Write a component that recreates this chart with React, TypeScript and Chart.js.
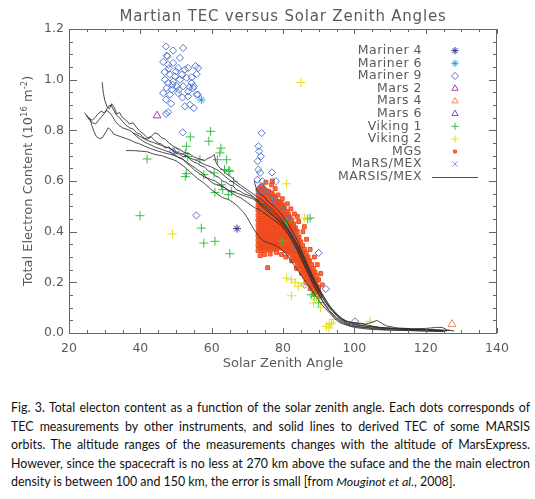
import React, { useEffect, useLayoutEffect, useRef, useState } from 'react';
import { Chart, registerables } from 'chart.js';
import { drawPoint } from 'chart.js/helpers';

Chart.register(...registerables);

type Pt = [number, number];

// axes
const xTickValues = [20, 40, 60, 80, 100, 120, 140];
const yTickValues = [0, 0.2, 0.4, 0.6, 0.8, 1.0, 1.2];
const xMinorStep = 5;
const yMinorStep = 0.05;

const seriesNames = [
  'Mariner 4', 'Mariner 6', 'Mariner 9', 'Mars 2', 'Mars 4', 'Mars 6',
  'Viking 1', 'Viking 2', 'MGS', 'MaRS/MEX', 'MARSIS/MEX',
];

// point measurements (solar zenith angle, TEC in 1e16 m^-2)
const mariner4: Pt[] = [[67.1, 0.412]];
const mariner6: Pt[] = [[57.1, 0.92]];
const mariner9: Pt[] = [
  [47.2, 1.131], [49.2, 1.115], [52.0, 1.125], [51.1, 1.086], [47.6, 1.092], [46.4, 1.07],
  [47.8, 1.059], [49.2, 1.066], [50.6, 1.046], [52.5, 1.04], [53.4, 1.046], [56.2, 1.046],
  [55.8, 1.022], [48.3, 1.02], [49.7, 1.013], [46.9, 1.0], [47.8, 0.987], [49.2, 0.993],
  [51.1, 1.0], [53.0, 1.007], [52.0, 0.974], [54.4, 0.987], [54.8, 0.967], [55.0, 0.974],
  [47.4, 0.967], [48.8, 0.961], [50.2, 0.974], [46.4, 0.947], [48.3, 0.941], [50.6, 0.947],
  [53.4, 0.954], [55.8, 0.941], [47.2, 0.921], [53.4, 0.934], [52.5, 0.895], [53.9, 0.901],
  [55.0, 0.888], [47.2, 0.865], [47.8, 0.872], [54.4, 1.009], [50.0, 1.033], [51.6, 1.02],
  [47.4, 1.095], [55.5, 1.053], [56.1, 0.941], [48.0, 1.045], [50.8, 0.96], [49.0, 0.98],
  [46.8, 1.03], [53.8, 0.97], [51.8, 0.93], [48.6, 0.905],
  [51.9, 0.792], [49.1, 0.717], [49.9, 0.72], [55.7, 0.464], [74.0, 0.789], [73.1, 0.737],
  [73.3, 0.717], [73.8, 0.697], [72.9, 0.678], [73.1, 0.645], [73.6, 0.632], [72.8, 0.605],
  [74.2, 0.599], [76.9, 0.634], [78.0, 0.599], [75.0, 0.553], [76.4, 0.526], [77.8, 0.52],
  [79.8, 0.487], [81.2, 0.461], [73.6, 0.553], [74.0, 0.579], [90.0, 0.316], [92.0, 0.174],
  [86.0, 0.191], [100.2, 0.046], [82.6, 0.395], [83.6, 0.342],
];
const mars2: Pt[] = [[44.7, 0.858]];
const mars4: Pt[] = [[127.4, 0.035]];
const mars6: Pt[] = [];
const viking1: Pt[] = [
  [39.9, 0.463], [41.9, 0.687], [52.6, 0.708], [53.3, 0.697], [52.9, 0.737], [54.0, 0.774],
  [52.9, 0.629], [52.6, 0.618], [56.7, 0.684], [59.7, 0.796], [59.2, 0.757], [62.6, 0.73],
  [62.3, 0.711], [61.6, 0.684], [63.6, 0.645], [64.8, 0.642], [60.7, 0.632], [57.8, 0.625],
  [60.9, 0.555], [63.1, 0.566], [64.7, 0.546], [66.1, 0.598], [65.1, 0.638], [64.2, 0.684],
  [62.8, 0.585], [65.6, 0.559], [57.1, 0.414], [57.8, 0.355], [60.9, 0.362], [65.1, 0.313],
  [86.9, 0.45], [87.6, 0.454], [79.8, 0.362], [81.0, 0.434], [87.9, 0.151], [88.8, 0.145],
  [90.0, 0.12],
];
const viking2: Pt[] = [
  [85.0, 0.989], [49.0, 0.391], [81.0, 0.589], [86.0, 0.454], [81.0, 0.217], [82.4, 0.21],
  [83.4, 0.2], [84.3, 0.184], [85.7, 0.197], [82.4, 0.147], [88.5, 0.118], [89.4, 0.134],
  [92.2, 0.026], [92.9, 0.02], [93.6, 0.039], [94.1, 0.053], [93.0, 0.033], [104.4, 0.046],
  [90.5, 0.1],
];
// MGS occultations: dense band, listed column by column
const mgsColumnX = [
  73, 73.5, 74, 74.5, 75, 75.5, 76, 76.5, 77, 77.5, 78, 78.5, 79, 79.5, 80, 80.5, 81, 81.5,
  82, 82.5, 83, 83.5, 84, 84.5, 85, 85.5, 86, 86.5, 87, 87.5, 88, 88.5, 89, 89.5, 90,
];
const mgsColumnY = [
  [0.325, 0.345, 0.365, 0.385, 0.405, 0.425, 0.445, 0.465, 0.485, 0.505, 0.525, 0.545, 0.565],
  [0.335, 0.355, 0.375, 0.395, 0.415, 0.435, 0.455, 0.475, 0.495, 0.515, 0.535, 0.555, 0.572],
  [0.325, 0.345, 0.366, 0.386, 0.404, 0.426, 0.446, 0.464, 0.486, 0.506, 0.526, 0.546, 0.566, 0.58],
  [0.333, 0.352, 0.374, 0.394, 0.413, 0.433, 0.452, 0.474, 0.494, 0.513, 0.533, 0.552, 0.57],
  [0.326, 0.344, 0.364, 0.386, 0.405, 0.424, 0.445, 0.466, 0.484, 0.505, 0.525, 0.544, 0.565],
  [0.334, 0.355, 0.376, 0.395, 0.414, 0.435, 0.456, 0.475, 0.494, 0.515, 0.536, 0.556],
  [0.33, 0.348, 0.368, 0.388, 0.407, 0.428, 0.447, 0.468, 0.488, 0.507, 0.528, 0.548, 0.56],
  [0.336, 0.357, 0.377, 0.396, 0.417, 0.437, 0.456, 0.476, 0.497, 0.517, 0.537, 0.553],
  [0.33, 0.35, 0.37, 0.39, 0.41, 0.43, 0.45, 0.47, 0.49, 0.51, 0.53, 0.55],
  [0.337, 0.358, 0.378, 0.398, 0.418, 0.438, 0.458, 0.478, 0.498, 0.518, 0.538],
  [0.335, 0.355, 0.375, 0.395, 0.415, 0.435, 0.455, 0.475, 0.495, 0.515, 0.535],
  [0.34, 0.36, 0.38, 0.4, 0.42, 0.44, 0.46, 0.48, 0.5, 0.52],
  [0.335, 0.355, 0.375, 0.395, 0.415, 0.435, 0.455, 0.475, 0.495, 0.515],
  [0.34, 0.36, 0.38, 0.4, 0.42, 0.44, 0.46, 0.48, 0.5, 0.512],
  [0.335, 0.355, 0.375, 0.395, 0.415, 0.435, 0.455, 0.475, 0.495, 0.505],
  [0.33, 0.35, 0.37, 0.39, 0.41, 0.43, 0.45, 0.47, 0.49],
  [0.325, 0.345, 0.365, 0.385, 0.405, 0.425, 0.445, 0.465, 0.48],
  [0.32, 0.34, 0.36, 0.38, 0.4, 0.42, 0.44, 0.46, 0.47],
  [0.315, 0.335, 0.355, 0.375, 0.395, 0.415, 0.435, 0.455],
  [0.305, 0.325, 0.345, 0.365, 0.385, 0.405, 0.425, 0.445],
  [0.295, 0.315, 0.335, 0.355, 0.375, 0.395, 0.415, 0.43],
  [0.285, 0.305, 0.325, 0.345, 0.365, 0.385, 0.405, 0.415],
  [0.275, 0.295, 0.315, 0.335, 0.355, 0.375, 0.4],
  [0.265, 0.285, 0.305, 0.325, 0.345, 0.365, 0.38],
  [0.255, 0.275, 0.295, 0.315, 0.335, 0.36],
  [0.24, 0.26, 0.28, 0.3, 0.32, 0.345],
  [0.225, 0.245, 0.265, 0.285, 0.305, 0.33],
  [0.215, 0.235, 0.255, 0.275, 0.295, 0.315],
  [0.205, 0.225, 0.245, 0.265, 0.285, 0.3],
  [0.195, 0.215, 0.235, 0.255, 0.285],
  [0.185, 0.205, 0.225, 0.245, 0.27],
  [0.178, 0.198, 0.218, 0.238, 0.255],
  [0.17, 0.19, 0.21, 0.24],
  [0.165, 0.185, 0.205, 0.225],
  [0.16, 0.18, 0.21],
];
const mgsScattered: Pt[] = [
  [75.7, 0.258], [76.8, 0.585], [77.8, 0.57], [78.6, 0.545], [79.8, 0.53], [81.2, 0.51],
  [82.2, 0.49], [83.2, 0.47], [84.4, 0.44], [85.6, 0.4], [86.6, 0.37], [87.6, 0.33],
  [88.8, 0.3], [89.6, 0.27], [90.6, 0.235], [91.0, 0.19], [73.6, 0.305], [74.8, 0.31],
  [76.4, 0.312], [78.2, 0.318], [79.6, 0.31], [80.8, 0.3], [82.4, 0.285], [83.8, 0.255],
  [85.2, 0.235], [86.4, 0.2], [87.6, 0.175], [88.8, 0.155], [90.4, 0.145], [77.0, 0.6],
  [75.2, 0.595], [84.0, 0.46], [86.0, 0.42],
];
const marsMex: Pt[] = [];

// MARSIS/MEX orbits (solid lines)
const marsisOrbit1: Pt[] = [
  [29.3, 0.99], [29.6, 0.95], [30, 0.92], [30.6, 0.895], [31.3, 0.885], [32, 0.905], [32.7, 0.89],
  [33.4, 0.865], [34.2, 0.87], [35, 0.85], [36, 0.84], [37, 0.825], [38, 0.83], [39, 0.81],
  [40, 0.795], [41, 0.785], [42, 0.77], [43, 0.775], [44, 0.76], [45, 0.75], [46, 0.745],
  [47, 0.73], [48, 0.735], [49, 0.72], [50, 0.71], [51, 0.705], [52, 0.695], [53, 0.7],
  [54, 0.685], [55, 0.675], [56, 0.67], [57, 0.66], [58, 0.655], [59, 0.64], [60, 0.635],
  [61, 0.62], [62, 0.615], [63, 0.6], [64, 0.595], [65, 0.585], [66, 0.58], [67, 0.565],
  [68, 0.56], [69, 0.55], [70, 0.545], [71, 0.54], [72, 0.53], [73, 0.525], [74, 0.51],
  [75, 0.505], [76, 0.49], [77, 0.48], [78, 0.465], [79, 0.45], [80, 0.435], [81, 0.415],
  [82, 0.395], [83, 0.37], [84, 0.345], [85, 0.315], [86, 0.285], [87, 0.255], [88, 0.225],
  [89, 0.195], [90, 0.17], [91, 0.145], [92, 0.12], [93, 0.1], [94, 0.085], [95, 0.068],
  [96, 0.055], [98, 0.04], [100, 0.032], [103, 0.027], [106, 0.022], [110, 0.018],
  [114, 0.016], [118, 0.013], [122, 0.012], [126, 0.01],
];
const marsisOrbit2: Pt[] = [
  [24.4, 0.87], [25, 0.855], [25.8, 0.84], [26.6, 0.83], [27.5, 0.825], [28.3, 0.84],
  [29.2, 0.855], [30.1, 0.87], [31, 0.895], [31.8, 0.9], [32.5, 0.88], [33.3, 0.86],
  [34.2, 0.85], [35, 0.835], [36, 0.82], [37, 0.81], [38, 0.805], [39, 0.79], [40, 0.785],
  [41, 0.77], [42, 0.765], [43, 0.775], [44, 0.79], [45, 0.785], [46, 0.77], [47, 0.765],
  [48, 0.75], [49, 0.74], [50, 0.73], [51, 0.725], [52, 0.715], [53, 0.71], [54, 0.705],
  [55, 0.695], [56, 0.69], [57, 0.685], [58, 0.68], [59, 0.69], [60, 0.695], [60.7, 0.705],
  [61.3, 0.67], [62, 0.655], [63, 0.645], [64, 0.63], [65, 0.62], [66, 0.61], [67, 0.595],
  [68, 0.585], [69, 0.575], [70, 0.565], [71, 0.555], [72, 0.545], [73, 0.535], [74, 0.525],
  [75, 0.515], [76, 0.5], [77, 0.49], [78, 0.475], [79, 0.46], [80, 0.44], [81, 0.42],
  [82, 0.4], [83, 0.375], [84, 0.35], [85, 0.325], [86, 0.295], [87, 0.265], [88, 0.235],
  [89, 0.205], [90, 0.18], [91, 0.155], [92, 0.13], [93, 0.105], [94, 0.09], [95, 0.072],
  [96, 0.06], [97, 0.05], [99, 0.042], [101, 0.038], [103, 0.035], [105, 0.042], [106.3, 0.05],
  [107.5, 0.04], [109, 0.028], [112, 0.02], [116, 0.017], [120, 0.018], [123, 0.022],
  [124.7, 0.022], [126, 0.012], [128, 0.008],
];
const marsisOrbit3: Pt[] = [
  [25.8, 0.85], [26.4, 0.82], [27, 0.795], [27.7, 0.775], [28.5, 0.768], [29.3, 0.77],
  [30.2, 0.79], [31, 0.81], [31.8, 0.8], [32.5, 0.785], [33.5, 0.78], [34.5, 0.775],
  [35.5, 0.77], [36.5, 0.765], [37.5, 0.76], [38.5, 0.752], [39.5, 0.748], [40.5, 0.742],
  [41.5, 0.736], [42.5, 0.73], [43.5, 0.725], [44.5, 0.72], [45.5, 0.716], [46.5, 0.712],
  [47.5, 0.708], [48.5, 0.705], [49.5, 0.7], [50.5, 0.695], [51.5, 0.69], [52.5, 0.68],
  [53.5, 0.67], [54.5, 0.66], [55.5, 0.65], [56.5, 0.64], [57.5, 0.63], [58.5, 0.615],
  [59.5, 0.6], [60.5, 0.59], [61.5, 0.585], [62.5, 0.58], [63.5, 0.575], [64.5, 0.565],
  [65.5, 0.56], [66.5, 0.555], [67.5, 0.55], [68.5, 0.545], [69.5, 0.54], [70.5, 0.535],
  [71.5, 0.53], [72.5, 0.52], [73.5, 0.51], [74.5, 0.5], [75.5, 0.49], [76.5, 0.475],
  [77.5, 0.46], [78.5, 0.445], [79.5, 0.43], [80.5, 0.41], [81.5, 0.39], [82.5, 0.365],
  [83.5, 0.34], [84.5, 0.31], [85.5, 0.28], [86.5, 0.25], [87.5, 0.22], [88.5, 0.19],
  [89.5, 0.165], [90.5, 0.14], [91.5, 0.115], [92.5, 0.095], [93.5, 0.078], [94.5, 0.062],
  [95.5, 0.05], [97, 0.038], [99, 0.028], [102, 0.022], [106, 0.016], [110, 0.012],
  [115, 0.01], [120, 0.008], [125, 0.006],
];
const marsisOrbit4: Pt[] = [
  [25, 0.86], [25.7, 0.845], [26.5, 0.84], [27.3, 0.85], [28.1, 0.865], [29, 0.875],
  [29.8, 0.87], [30.6, 0.878], [31.4, 0.87], [32.2, 0.855], [33, 0.835], [34, 0.82],
  [35, 0.81], [36, 0.805], [37, 0.8], [38, 0.79], [39, 0.775], [40, 0.765], [41, 0.755],
  [42, 0.748], [43, 0.742], [44, 0.735], [45, 0.73], [46, 0.725], [47, 0.72], [48, 0.715],
  [49, 0.71], [50, 0.7], [51, 0.69], [52, 0.685], [53, 0.67], [54, 0.66], [55, 0.645],
  [56, 0.635], [57, 0.625], [58, 0.615], [59, 0.61], [60, 0.605], [61, 0.6], [62, 0.59],
  [63, 0.58], [64, 0.57], [65, 0.56], [66, 0.55], [67, 0.54], [68, 0.535], [69, 0.525],
  [70, 0.515], [71, 0.505], [72, 0.495], [73, 0.49], [74, 0.48], [75, 0.47], [76, 0.46],
  [77, 0.45], [78, 0.44], [79, 0.43], [80, 0.415], [81, 0.4], [82, 0.38], [83, 0.355],
  [84, 0.33], [85, 0.3], [86, 0.27], [87, 0.24], [88, 0.21], [89, 0.18], [90, 0.155],
  [91, 0.13], [92, 0.11], [93, 0.09], [94, 0.075], [95, 0.06], [96, 0.05], [98, 0.036],
  [100, 0.028], [103, 0.022], [107, 0.018], [112, 0.015], [117, 0.013], [122, 0.011],
  [126, 0.008],
];
const marsisOrbit5: Pt[] = [
  [36, 0.72], [38, 0.72], [40, 0.718], [42, 0.715], [44, 0.705], [46, 0.7], [48, 0.69],
  [50, 0.68], [52, 0.66], [54, 0.635], [56, 0.61], [58, 0.59], [60, 0.565], [61, 0.555],
  [62, 0.545], [63, 0.535], [64, 0.53], [65, 0.525], [66, 0.515], [67, 0.505], [68, 0.49],
  [69, 0.475], [70, 0.455], [71, 0.43], [72, 0.405], [73, 0.385], [74, 0.37], [75, 0.36],
  [76, 0.355], [77, 0.35], [78, 0.345], [79, 0.335], [80, 0.325], [81, 0.31], [82, 0.29],
  [83, 0.27], [84, 0.25], [85, 0.23], [86, 0.21], [87, 0.19], [88, 0.17], [89, 0.15],
  [90, 0.13], [91, 0.11], [92, 0.095], [93, 0.08], [94, 0.065], [95, 0.05], [96, 0.04],
  [98, 0.03], [100, 0.022], [104, 0.015], [108, 0.012], [114, 0.01], [120, 0.008],
  [125, 0.006],
];
const marsisOrbit6: Pt[] = [
  [72, 0.6], [72.3, 0.58], [72.8, 0.56], [73.5, 0.55], [74.5, 0.54], [75.5, 0.525],
  [76.5, 0.51], [77.5, 0.5], [78.5, 0.485], [79.5, 0.47], [80.5, 0.45], [81.5, 0.43],
  [82.5, 0.405], [83.5, 0.38], [84.5, 0.35], [85.5, 0.315], [86.5, 0.28], [87.5, 0.245],
  [88.5, 0.21], [89.5, 0.185], [90.5, 0.16], [91.5, 0.14], [92.5, 0.12], [93.5, 0.1],
  [94.5, 0.085], [95.5, 0.07], [96.5, 0.058], [98, 0.045], [100, 0.036], [103, 0.028],
  [107, 0.022], [112, 0.018], [117, 0.015], [122, 0.013], [127, 0.01],
];
const marsisOrbit7: Pt[] = [
  [38, 0.79], [40, 0.775], [42, 0.76], [44, 0.75], [46, 0.74], [48, 0.73], [50, 0.715],
  [52, 0.705], [54, 0.69], [56, 0.68], [58, 0.665], [60, 0.655], [62, 0.64], [64, 0.615],
  [66, 0.595], [68, 0.575], [70, 0.555], [72, 0.535], [74, 0.5], [76, 0.475], [78, 0.455],
  [80, 0.43], [82, 0.39], [84, 0.34], [86, 0.28], [88, 0.22], [90, 0.165], [92, 0.12],
  [94, 0.085], [96, 0.06], [98, 0.045], [100, 0.04], [102, 0.038], [104, 0.03], [108, 0.02],
  [114, 0.015], [120, 0.012], [125, 0.01],
];
const marsisOrbits = [
  marsisOrbit1, marsisOrbit2, marsisOrbit3, marsisOrbit4, marsisOrbit5, marsisOrbit6, marsisOrbit7,
];

const captionLines = [
  'Fig. 3. Total electon content as a function of the solar zenith angle. Each dots corresponds of',
  'TEC measurements by other instruments, and solid lines to derived TEC of some MARSIS',
  'orbits. The altitude ranges of the measurements changes with the altitude of MarsExpress.',
  'However, since the spacecraft is no less at 270 km above the suface and the the main electron',
];
const captionLastStart = 'density is between 100 and 150 km, the error is small [from ';
const captionLastItalic = 'Mouginot et al.';
const captionLastEnd = ', 2008].';
const CAPTION_FONT = 'Lato, "Open Sans", sans-serif';

// look of each series
const seriesStyle: Record<string, any> = {
  'Mariner 4': { shape: 'star', radius: 4, color: '#2b3190', fill: 'rgba(0,0,0,0)' },
  'Mariner 6': { shape: 'star', radius: 4, color: '#1f9fe0', fill: 'rgba(0,0,0,0)' },
  'Mariner 9': { shape: 'rectRot', radius: 3.6, color: '#5677cf', fill: 'rgba(0,0,0,0)' },
  'Mars 2': { shape: 'triangle', radius: 4.5, color: '#a646a8', fill: 'rgba(0,0,0,0)' },
  'Mars 4': { shape: 'triangle', radius: 4.5, color: '#f2875a', fill: 'rgba(0,0,0,0)' },
  'Mars 6': { shape: 'triangle', radius: 4.5, color: '#7552c0', fill: 'rgba(0,0,0,0)' },
  'Viking 1': { shape: 'cross', radius: 4.5, color: '#36c046', fill: 'rgba(0,0,0,0)' },
  'Viking 2': { shape: 'cross', radius: 4.5, color: '#e4de1e', fill: 'rgba(0,0,0,0)' },
  'MGS': { shape: 'rect', radius: 2.7, color: '#ee4a1c', fill: 'rgba(242,78,34,0.8)' },
  'MaRS/MEX': { shape: 'crossRot', radius: 4, color: '#8c8ce2', fill: 'rgba(0,0,0,0)' },
  'MARSIS/MEX': { line: true, color: 'rgba(45,45,45,0.85)' },
};

const FONT = '"DejaVu Sans", sans-serif';
const AXIS_COLOR = '#666';
const TEXT_COLOR = '#5a5a5a';

const toXY = (pts: Pt[]) => pts.map(([x, y]) => ({ x, y }));

const near = (v: number, list: number[]) => list.some((t) => Math.abs(t - v) < 1e-6);

const idlDecor = {
  id: 'idlDecor',
  afterDatasetsDraw(chart: any) {
    const { ctx, chartArea: a, scales } = chart;
    const xs = scales.x;
    const ys = scales.y;
    ctx.save();
    ctx.strokeStyle = AXIS_COLOR;
    ctx.lineWidth = 1;
    ctx.strokeRect(a.left + 0.5, a.top + 0.5, a.right - a.left - 1, a.bottom - a.top);
    ctx.beginPath();
    for (let v = xs.min; v <= xs.max + 1e-6; v += xMinorStep) {
      const px = Math.round(xs.getPixelForValue(v)) + 0.5;
      const len = near(v, xTickValues) ? 5 : 3;
      ctx.moveTo(px, a.bottom);
      ctx.lineTo(px, a.bottom - len);
      ctx.moveTo(px, a.top);
      ctx.lineTo(px, a.top + len);
    }
    for (let v = ys.min; v <= ys.max + 1e-6; v += yMinorStep) {
      const py = Math.round(ys.getPixelForValue(v)) + 0.5;
      const len = near(v, yTickValues) ? 8 : 4;
      ctx.moveTo(a.left, py);
      ctx.lineTo(a.left + len, py);
      ctx.moveTo(a.right, py);
      ctx.lineTo(a.right - len, py);
    }
    ctx.stroke();
    ctx.restore();
  },
  afterDraw(chart: any) {
    const { ctx, chartArea: a } = chart;
    const cx = (a.left + a.right) / 2;
    ctx.save();
    ctx.fillStyle = TEXT_COLOR;
    ctx.textBaseline = 'middle';

    // title
    ctx.font = `15px ${FONT}`;
    ctx.textAlign = 'center';
    (ctx as any).letterSpacing = '0.8px';
    ctx.fillText('Martian TEC versus Solar Zenith Angles', cx, 17);
    (ctx as any).letterSpacing = '0px';

    // x title
    ctx.font = `13px ${FONT}`;
    ctx.fillText('Solar Zenith Angle', cx, 364);

    // y title with superscripts
    const parts: [string, boolean][] = [
      ['Total Electron Content (10', false], ['16', true], [' m', false], ['-2', true], [')', false],
    ];
    const fontFor = (sup: boolean) => (sup ? `8.5px ${FONT}` : `13px ${FONT}`);
    let total = 0;
    parts.forEach(([t, sup]) => { ctx.font = fontFor(sup); total += ctx.measureText(t).width; });
    ctx.translate(29, (a.top + a.bottom) / 2);
    ctx.rotate(-Math.PI / 2);
    ctx.textAlign = 'left';
    let px = -total / 2;
    parts.forEach(([t, sup]) => {
      ctx.font = fontFor(sup);
      ctx.fillText(t, px, sup ? -4.5 : 0);
      px += ctx.measureText(t).width;
    });
    ctx.setTransform(chart.currentDevicePixelRatio, 0, 0, chart.currentDevicePixelRatio, 0, 0);

    // legend: text right aligned, symbol to the right
    const legendRight = 422;
    const symbolX = 455;
    seriesNames.forEach((name, i) => {
      const y = 50.7 + i * 12.6;
      ctx.font = `12.5px ${FONT}`;
      (ctx as any).letterSpacing = '0.5px';
      ctx.textAlign = 'right';
      ctx.fillStyle = TEXT_COLOR;
      ctx.fillText(name, legendRight, y);
      (ctx as any).letterSpacing = '0px';
      const st = seriesStyle[name];
      if (st.line) {
        ctx.strokeStyle = st.color;
        ctx.lineWidth = 1;
        ctx.beginPath();
        ctx.moveTo(432, Math.round(y) + 0.5);
        ctx.lineTo(478, Math.round(y) + 0.5);
        ctx.stroke();
      } else {
        ctx.strokeStyle = st.color;
        ctx.fillStyle = st.fill;
        ctx.lineWidth = 1;
        const r = st.shape === 'rect' ? 2 : Math.min(st.radius, 3.6);
        drawPoint(ctx, { pointStyle: st.shape, radius: r, rotation: 0, borderWidth: 1 }, symbolX, y);
      }
    });
    ctx.restore();
  },
};

const pointSet = (name: string, pts: Pt[], order: number) => {
  const st = seriesStyle[name];
  return {
    label: name,
    data: toXY(pts),
    pointStyle: st.shape,
    pointRadius: st.radius,
    pointBorderWidth: 1,
    borderColor: st.color,
    backgroundColor: st.fill,
    showLine: false,
    order,
  };
};

const App: React.FC = () => {
  const canvasRef = useRef<HTMLCanvasElement>(null);
  const [captionSize, setCaptionSize] = useState(12);

  // pick a caption size so the last (unjustified) line is as long as in the figure
  useLayoutEffect(() => {
    const c = document.createElement('canvas').getContext('2d');
    if (!c) return;
    c.font = `20px ${CAPTION_FONT}`;
    const lastW = c.measureText(captionLastStart + captionLastItalic + captionLastEnd).width;
    const widest = Math.max(...captionLines.map((l) => c.measureText(l).width));
    const size = Math.min((20 * 466) / lastW, (20 * 512) / widest);
    setCaptionSize(Math.round(size * 10) / 10);
  }, []);

  useEffect(() => {
    if (!canvasRef.current) return;
    const mgsPoints: Pt[] = [];
    mgsColumnX.forEach((x, i) => mgsColumnY[i].forEach((y) => mgsPoints.push([x, y])));
    mgsScattered.forEach((p) => mgsPoints.push(p));

    const lineSets = marsisOrbits.map((orbit, i) => ({
      label: i === 0 ? 'MARSIS/MEX' : `MARSIS/MEX ${i + 1}`,
      data: toXY(orbit),
      showLine: true,
      borderColor: seriesStyle['MARSIS/MEX'].color,
      borderWidth: 1,
      pointRadius: 0,
      tension: 0,
      order: 0,
    }));

    const chart = new Chart(canvasRef.current, {
      type: 'scatter',
      data: {
        datasets: [
          ...lineSets,
          pointSet('Mariner 4', mariner4, 1),
          pointSet('Mariner 6', mariner6, 1),
          pointSet('Viking 2', viking2, 2),
          pointSet('Mariner 9', mariner9, 3),
          pointSet('Viking 1', viking1, 4),
          pointSet('Mars 2', mars2, 4),
          pointSet('Mars 4', mars4, 4),
          pointSet('Mars 6', mars6, 4),
          pointSet('MaRS/MEX', marsMex, 4),
          pointSet('MGS', mgsPoints, 9),
        ],
      },
      options: {
        responsive: false,
        animation: false,
        events: [],
        layout: { padding: { left: 0, right: 38, top: 29, bottom: 0 } },
        plugins: {
          legend: { display: false },
          tooltip: { enabled: false },
          title: { display: false },
        },
        scales: {
          x: {
            type: 'linear',
            min: 20,
            max: 140,
            afterBuildTicks: (s: any) => { s.ticks = xTickValues.map((value) => ({ value })); },
            afterFit: (s: any) => { s.height = 52; },
            grid: { display: false, drawTicks: false },
            border: { display: false },
            ticks: {
              color: TEXT_COLOR,
              font: { family: FONT, size: 12.5 },
              padding: 8,
              maxRotation: 0,
              autoSkip: false,
              callback: (v: any) => String(v),
            },
          },
          y: {
            type: 'linear',
            min: 0,
            max: 1.2,
            afterBuildTicks: (s: any) => { s.ticks = yTickValues.map((value) => ({ value })); },
            afterFit: (s: any) => { s.width = 69; },
            grid: { display: false, drawTicks: false },
            border: { display: false },
            ticks: {
              color: TEXT_COLOR,
              font: { family: FONT, size: 12.5 },
              padding: 5,
              autoSkip: false,
              callback: (v: any) => Number(v).toFixed(1),
            },
          },
        },
      },
      plugins: [idlDecor],
    } as any);

    return () => chart.destroy();
  }, []);

  return (
    <div style={{ position: 'absolute', left: 0, top: 0, width: 535, height: 499, background: '#fff' }}>
      <canvas ref={canvasRef} width={535} height={385} style={{ position: 'absolute', left: 0, top: 0 }} />
      <div
        style={{
          position: 'absolute',
          left: 11,
          top: 399,
          width: 519,
          fontFamily: CAPTION_FONT,
          fontSize: captionSize,
          lineHeight: '18.5px',
          color: '#111',
        }}
      >
        {captionLines.map((line, i) => (
          <div key={i} style={{ textAlign: 'justify', textAlignLast: 'justify', whiteSpace: 'nowrap' }}>
            {line}
          </div>
        ))}
        <div style={{ whiteSpace: 'nowrap' }}>
          {captionLastStart}<i>{captionLastItalic}</i>{captionLastEnd}
        </div>
      </div>
    </div>
  );
};

export default App;
